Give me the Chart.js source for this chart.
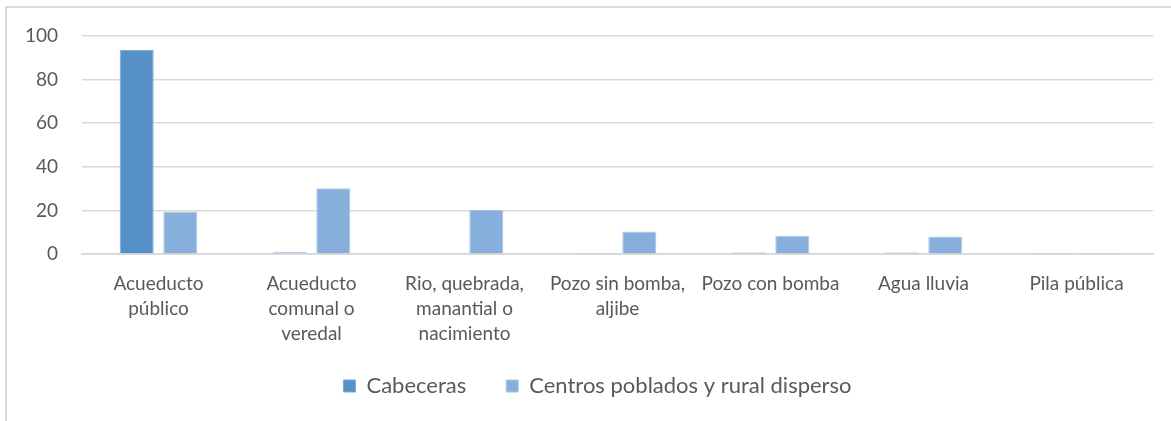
<!DOCTYPE html>
<html>
<head>
<meta charset="utf-8">
<script src="https://cdn.jsdelivr.net/npm/chart.js@4"></script>
<style>
  html, body { margin: 0; padding: 0; background: #fff; overflow: hidden; }
  body { width: 1171px; height: 421px; position: relative; }
  .frame {
    position: absolute; left: 5px; top: 6px; width: 1180px; height: 430px;
    border-left: 2px solid #d9d9d9; border-top: 2px solid #d9d9d9;
  }
  .chart-wrap { position: absolute; left: 0; top: 0; width: 1171px; height: 437px; }
</style>
</head>
<body>
<div class="frame"></div>
<div class="chart-wrap"><canvas id="waterChart"></canvas></div>
<script>
// categories (x axis, multi-line labels)
const categories = [
  ["Acueducto", "público"],
  ["Acueducto", "comunal o", "veredal"],
  ["Rio, quebrada,", "manantial o", "nacimiento"],
  ["Pozo sin bomba,", "aljibe"],
  "Pozo con bomba",
  "Agua lluvia",
  "Pila pública"
];

// series values (%)
const cabeceras = [93.7, 0.8, 0, 0.2, 0.7, 0.7, 0.2];
const centrosPoblados = [19.4, 30.2, 20.2, 10.3, 8.4, 8.0, 0.2];

const yTicks = [0, 20, 40, 60, 80, 100];

//colours
const TEXT = "#595959";
const GRID = "#d9d9d9";
const FONT = "Lato";

//legend sits a bit right of centre and higher up in the original
const legendShift = {
  id: "legendShift",
  afterLayout(chart) {
    const lg = chart.legend;
    if (!lg) return;
    lg.left += 21;
    lg.right += 21;
    lg.top -= 30;
    lg.bottom -= 30;
  }
};

new Chart(document.getElementById("waterChart"), {
  type: "bar",
  data: {
    labels: categories,
    datasets: [
      {
        label: "Cabeceras",
        data: cabeceras,
        backgroundColor: "#5591c8",
        borderColor: "#79a9d8",
        borderWidth: 1,
        categoryPercentage: 0.57,
        barPercentage: 0.78
      },
      {
        label: "Centros poblados y rural disperso",
        data: centrosPoblados,
        backgroundColor: "#87afdc",
        borderColor: "#a9c6e8",
        borderWidth: 1,
        categoryPercentage: 0.57,
        barPercentage: 0.78
      }
    ]
  },
  plugins: [legendShift],
  options: {
    responsive: true,
    maintainAspectRatio: false,
    animation: false,
    layout: { padding: { left: 0, right: 18, top: 36, bottom: 0 } },
    plugins: {
      tooltip: { enabled: false },
      legend: {
        position: "bottom",
        labels: {
          color: TEXT,
          font: { family: FONT, size: 22 },
          boxWidth: 12,
          boxHeight: 12,
          padding: 40
        }
      }
    },
    scales: {
      x: {
        grid: { display: false, drawTicks: false },
        border: { color: GRID, width: 2 },
        ticks: {
          color: TEXT,
          font: { family: FONT, size: 19, lineHeight: 1.32 },
          padding: 17,
          maxRotation: 0,
          autoSkip: false
        },
        afterFit: (axis) => { axis.height = 111; }
      },
      y: {
        min: 0,
        max: 100,
        afterBuildTicks: (axis) => { axis.ticks = yTicks.map(v => ({ value: v })); },
        grid: { color: GRID, lineWidth: 1.5, drawTicks: false },
        border: { display: false },
        ticks: {
          color: TEXT,
          font: { family: FONT, size: 19 },
          padding: 24
        },
        afterFit: (axis) => { axis.width = 82; }
      }
    }
  }
});
</script>
</body>
</html>
